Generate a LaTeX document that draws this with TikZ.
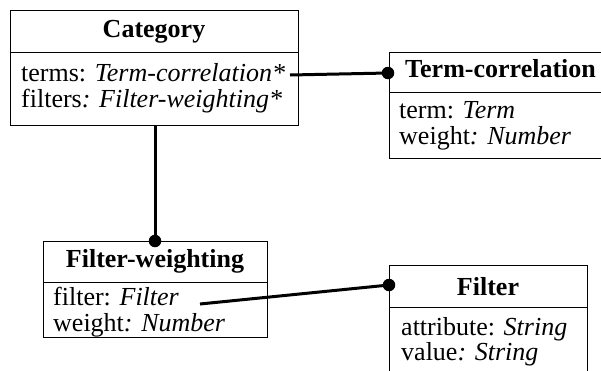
\documentclass[tikz,border=0pt]{standalone}
\usepackage{fontspec}
\setmainfont{Liberation Serif}
\begin{document}
\begin{tikzpicture}[x=1pt,y=-1pt,
  classbox/.style={draw,line width=1pt,anchor=north west,inner sep=0pt,outer sep=0pt},
  rule/.style={line width=1pt},
  head/.style={font=\fontsize{26}{28}\selectfont\bfseries,anchor=base,inner sep=0pt},
  attr/.style={font=\fontsize{26}{28}\selectfont,anchor=base west,inner sep=0pt},
  link/.style={line width=3pt},
  knob/.style={circle,fill=black,inner sep=0pt,minimum size=12.5pt}]
\useasboundingbox (0,0) rectangle (601,370);
\clip (0,0) rectangle (601,370);

% class boxes
\node[classbox,minimum width=288pt,minimum height=115pt] (cat) at (10,10) {};
\node[classbox,minimum width=226pt,minimum height=106pt] (tc) at (389,52) {};
\node[classbox,minimum width=224pt,minimum height=96pt] (fw) at (43,241) {};
\node[classbox,minimum width=198pt,minimum height=135pt] (fl) at (389,265) {};

% header dividers
\draw[rule] (cat.west |- 0,52) -- (cat.east |- 0,52);
\draw[rule] (tc.west |- 0,92) -- (tc.east |- 0,92);
\draw[rule] (fw.west |- 0,282) -- (fw.east |- 0,282);
\draw[rule] (fl.west |- 0,307) -- (fl.east |- 0,307);

% Category
\node[head] (catname) at (154,37) {Category};
\node[attr] (catterms) at (21,81) {terms: \textit{Term-correlation*}};
\node[attr] (catfilters) at (21,107) {filters\textit{: Filter-weighting*}};

% Term-correlation
\node[head,anchor=base west] (tcname) at (405,77) {Term-correlation};
\node[attr] (tcterm) at (399,118) {term: \textit{Term}};
\node[attr] (tcweight) at (399,144) {weight\textit{: Number}};

% Filter-weighting
\node[head] (fwname) at (155,267) {Filter-weighting};
\node[attr] (fwfilter) at (53,305) {filter: \textit{Filter}};
\node[attr] (fwweight) at (53,331) {weight\textit{: Number}};

% Filter
\node[head] (flname) at (488,295) {Filter};
\node[attr] (flattr) at (401,335) {attribute: \textit{String}};
\node[attr] (flvalue) at (401,360) {value\textit{: String}};

% association ends
\node[knob] (k1) at (388,73) {};
\node[knob] (k2) at (155,241) {};
\node[knob] (k3) at (389,285) {};
\coordinate (termsend) at (290,75);
\coordinate (filterend) at (200,304);

% associations
\draw[link] (termsend) -- (k1.center);
\draw[link] (k2 |- cat.south) -- (k2.center);
\draw[link] (filterend) -- (k3.center);
\end{tikzpicture}
\end{document}
